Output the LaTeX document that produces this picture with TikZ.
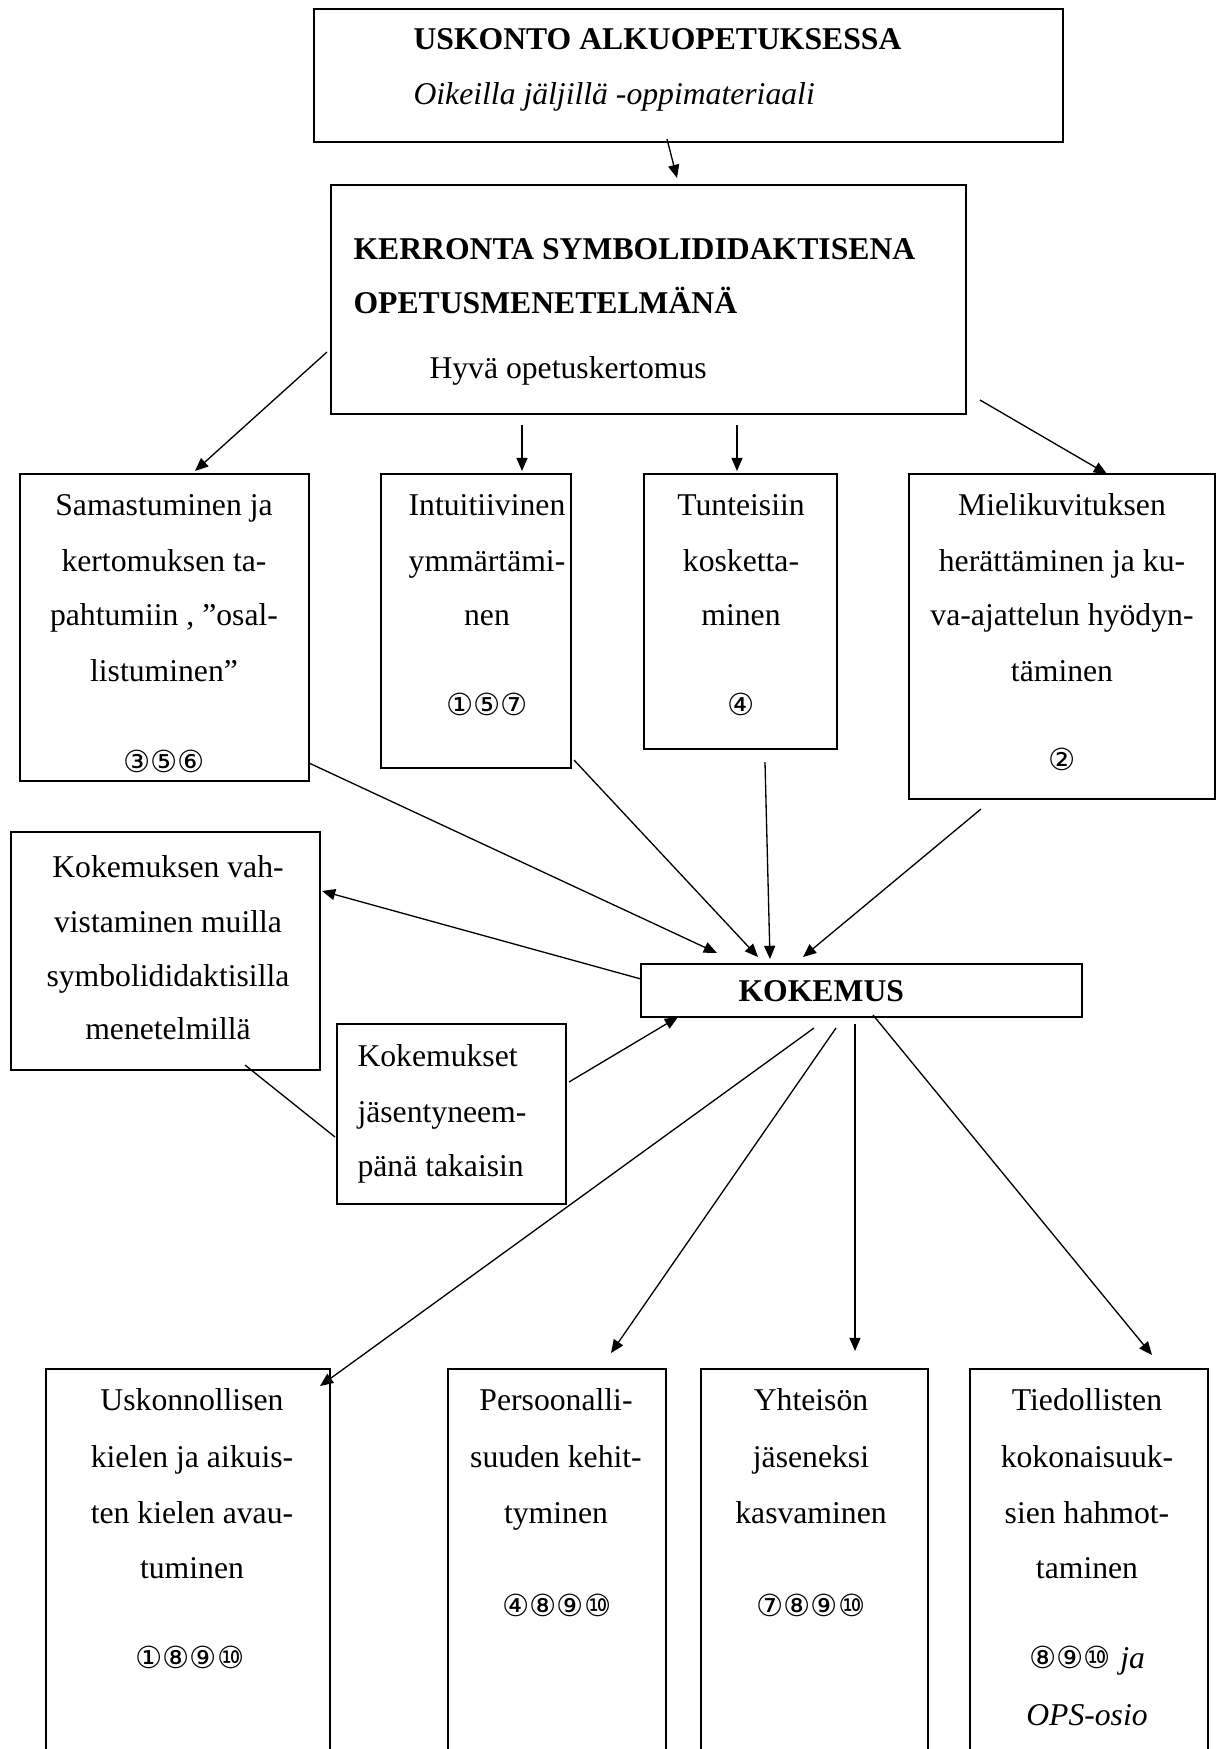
\documentclass[tikz,border=0pt]{standalone}
\usepackage{fontspec}
\setmainfont{Liberation Serif}
\newfontfamily\circfont{DejaVu Sans}
\usetikzlibrary{arrows.meta,fit}
\begin{document}
\begin{tikzpicture}[x=0.3788pt,y=-0.3788pt,
  box/.style={draw,line width=0.7pt,inner sep=0pt},
  txt/.style={anchor=mid,inner sep=0pt,yshift=-1.9pt,font=\fontsize{12}{14}\selectfont},
  txtl/.style={txt,anchor=mid west},
  btxt/.style={txtl,font=\fontsize{12}{14}\selectfont\bfseries},
  num/.style={anchor=mid,inner sep=0pt,yshift=-1.5pt,font=\circfont\fontsize{11.5}{13}\selectfont},
  arr/.style={line width=0.5pt,-{Triangle[length=5pt,width=4.2pt]}},
  ln/.style={line width=0.5pt}]
\useasboundingbox (0,0) rectangle (1222,1749);
\clip (0,0) rectangle (1222,1749);
% boxes
\node[box,fit={(314,9)(1063,142)}] (T) {};
\node[box,fit={(331,185)(966,414)}] (M) {};
\node[box,fit={(20,474)(309,781)}] (A) {};
\node[box,fit={(381,474)(571,768)}] (B) {};
\node[box,fit={(644,474)(837,749)}] (C) {};
\node[box,fit={(909,474)(1215,799)}] (D) {};
\node[box,fit={(641,964)(1082,1017)}] (K) {};
\node[box,fit={(11,832)(320,1070)}] (E) {};
\node[box,fit={(337,1024)(566,1204)}] (F) {};
\node[box,fit={(46,1369)(330,1760)}] (G) {};
\node[box,fit={(448,1369)(666,1760)}] (H) {};
\node[box,fit={(701,1369)(928,1760)}] (I) {};
\node[box,fit={(970,1369)(1208,1760)}] (J) {};
% texts
\node[btxt] (T1) at (413,38) {USKONTO ALKUOPETUKSESSA};
\node[txtl,font=\fontsize{12}{14}\selectfont\itshape] (T2) at (413,93) {Oikeilla jäljillä -oppimateriaali};
\node[btxt] (M1) at (353,248) {KERRONTA SYMBOLIDIDAKTISENA};
\node[btxt] (M2) at (353,302) {OPETUSMENETELMÄNÄ};
\node[txtl] (M3) at (429,367) {Hyvä opetuskertomus};
\node[txt] (A1) at (164,504) {Samastuminen ja};
\node[txt] (A2) at (164,560) {kertomuksen ta-};
\node[txt] (A3) at (164,614) {pahtumiin , ”osal-};
\node[txt] (A4) at (164,670) {listuminen”};
\node[num] (A5) at (164,762) {③⑤⑥};
\node[txt] (B1) at (487,504) {Intuitiivinen};
\node[txt] (B2) at (487,560) {ymmärtämi-};
\node[txt] (B3) at (487,614) {nen};
\node[num] (B4) at (487,705) {①⑤⑦};
\node[txt] (C1) at (741,504) {Tunteisiin};
\node[txt] (C2) at (741,560) {kosketta-};
\node[txt] (C3) at (741,614) {minen};
\node[num] (C4) at (741,705) {④};
\node[txt] (D1) at (1062,504) {Mielikuvituksen};
\node[txt] (D2) at (1062,560) {herättäminen ja ku-};
\node[txt] (D3) at (1062,614) {va-ajattelun hyödyn-};
\node[txt] (D4) at (1062,670) {täminen};
\node[num] (D5) at (1062,760) {②};
\node[btxt] (K1) at (738,990) {KOKEMUS};
\node[txt] (E1) at (168,866) {Kokemuksen vah-};
\node[txt] (E2) at (168,921) {vistaminen muilla};
\node[txt] (E3) at (168,975) {symbolididaktisilla};
\node[txt] (E4) at (168,1028) {menetelmillä};
\node[txtl] (F1) at (357,1055) {Kokemukset};
\node[txtl] (F2) at (357,1111) {jäsentyneem-};
\node[txtl] (F3) at (357,1165) {pänä takaisin};
\node[txt] (G1) at (192,1399) {Uskonnollisen};
\node[txt] (G2) at (192,1456) {kielen ja aikuis-};
\node[txt] (G3) at (192,1512) {ten kielen avau-};
\node[txt] (G4) at (192,1567) {tuminen};
\node[num] (G5) at (190,1658) {①⑧⑨⑩};
\node[txt] (H1) at (556,1399) {Persoonalli-};
\node[txt] (H2) at (556,1456) {suuden kehit-};
\node[txt] (H3) at (556,1512) {tyminen};
\node[num] (H4) at (557,1606) {④⑧⑨⑩};
\node[txt] (I1) at (811,1399) {Yhteisön};
\node[txt] (I2) at (811,1456) {jäseneksi};
\node[txt] (I3) at (811,1512) {kasvaminen};
\node[num] (I4) at (811,1606) {⑦⑧⑨⑩};
\node[txt] (J1) at (1087,1399) {Tiedollisten};
\node[txt] (J2) at (1087,1456) {kokonaisuuk-};
\node[txt] (J3) at (1087,1512) {sien hahmot-};
\node[txt] (J4) at (1087,1567) {taminen};
\node[num] (J5) at (1087,1658) {⑧⑨⑩ {\rmfamily\itshape\fontsize{12}{14}\selectfont ja}};
\node[txt,font=\fontsize{12}{14}\selectfont\itshape] (J6) at (1087,1714) {OPS-osio};
% connector ends
\coordinate (t0) at (667,139);  \coordinate (m0) at (677,178);
\coordinate (ma) at (327,352);  \coordinate (a0) at (195,471);
\coordinate (mb) at (522,425);  \coordinate (b0) at (522,471);
\coordinate (mc) at (737,425);  \coordinate (c0) at (737,471);
\coordinate (md) at (980,400);  \coordinate (d0) at (1107,474);
\coordinate (a1) at (309,763);  \coordinate (ka) at (717,953);
\coordinate (b1) at (574,760);  \coordinate (kb) at (758,957);
\coordinate (c1) at (765,762);  \coordinate (kc) at (770,959);
\coordinate (d1) at (981,809);  \coordinate (kd) at (803,957);
\coordinate (ke) at (641,979);  \coordinate (e0) at (322,891);
\coordinate (f0) at (569,1082); \coordinate (kf) at (678,1017);
\coordinate (e1) at (245,1065); \coordinate (f1) at (335,1137);
\coordinate (kg) at (814,1028); \coordinate (g0) at (320,1386);
\coordinate (kh) at (836,1028); \coordinate (h0) at (611,1353);
\coordinate (ki) at (855,1024); \coordinate (i0) at (855,1351);
\coordinate (kj) at (873,1015); \coordinate (j0) at (1152,1355);
% connectors
\draw[arr] (t0) -- (m0);
\draw[arr] (ma) -- (a0);
\draw[arr] (mb) -- (b0);
\draw[arr] (mc) -- (c0);
\draw[arr] (md) -- (d0);
\draw[arr] (a1) -- (ka);
\draw[arr] (b1) -- (kb);
\draw[arr] (c1) -- (kc);
\draw[arr] (d1) -- (kd);
\draw[arr] (ke) -- (e0);
\draw[arr] (f0) -- (kf);
\draw[ln] (e1) -- (f1);
\draw[arr] (kg) -- (g0);
\draw[arr] (kh) -- (h0);
\draw[arr] (ki) -- (i0);
\draw[arr] (kj) -- (j0);
\end{tikzpicture}
\end{document}
